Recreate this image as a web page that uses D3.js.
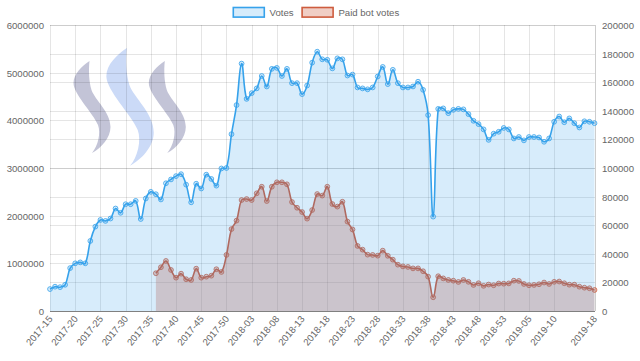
<!DOCTYPE html>
<html><head><meta charset="utf-8">
<script src="https://cdn.jsdelivr.net/npm/d3@7/dist/d3.min.js"></script>
<style>html,body{margin:0;padding:0;background:#fff;} svg{display:block;}</style>
</head><body>
<svg id="chart" width="640" height="361"></svg>
<script>
// ---------- DATA ----------
const weeks = [
"2017-15","2017-16","2017-17","2017-18","2017-19","2017-20","2017-21","2017-22","2017-23","2017-24",
"2017-25","2017-26","2017-27","2017-28","2017-29","2017-30","2017-31","2017-32","2017-33","2017-34",
"2017-35","2017-36","2017-37","2017-38","2017-39","2017-40","2017-41","2017-42","2017-43","2017-44",
"2017-45","2017-46","2017-47","2017-48","2017-49","2017-50","2017-51","2017-52",
"2018-01","2018-02","2018-03","2018-04","2018-05","2018-06","2018-07","2018-08","2018-09","2018-10",
"2018-11","2018-12","2018-13","2018-14","2018-15","2018-16","2018-17","2018-18","2018-19","2018-20",
"2018-21","2018-22","2018-23","2018-24","2018-25","2018-26","2018-27","2018-28","2018-29","2018-30",
"2018-31","2018-32","2018-33","2018-34","2018-35","2018-36","2018-37","2018-38","2018-39","2018-40",
"2018-41","2018-42","2018-43","2018-44","2018-45","2018-46","2018-47","2018-48","2018-49","2018-50",
"2018-51","2018-52","2018-53",
"2019-01","2019-02","2019-03","2019-04","2019-05","2019-06","2019-07","2019-08","2019-09","2019-10",
"2019-11","2019-12","2019-13","2019-14","2019-15","2019-16","2019-17","2019-18"];

const votes = [
460000,510000,500000,550000,900000,1000000,1020000,1000000,1470000,1770000,
1910000,1890000,1940000,2150000,2060000,2240000,2240000,2310000,1930000,2360000,
2500000,2450000,2340000,2680000,2760000,2830000,2870000,2650000,2280000,2670000,
2570000,2860000,2770000,2630000,2990000,3000000,3710000,4320000,5190000,4450000,
4570000,4670000,4930000,4710000,5080000,5100000,4930000,5080000,4780000,4780000,
4550000,4730000,5210000,5440000,5280000,5270000,5090000,5300000,5280000,4940000,
4960000,4690000,4670000,4650000,4690000,4920000,5120000,4760000,5060000,4780000,
4690000,4690000,4710000,4810000,4640000,4110000,1980000,4240000,4250000,4150000,
4220000,4240000,4230000,4130000,3990000,3920000,3810000,3590000,3720000,3760000,
3840000,3810000,3620000,3650000,3580000,3650000,3650000,3640000,3550000,3620000,
3970000,4080000,3960000,4040000,3940000,3850000,3980000,3970000,3940000];

const paidBotVotes = [
null,null,null,null,null,null,null,null,null,null,
null,null,null,null,null,null,null,null,null,null,
null,26400,30600,35000,28700,23300,26100,22200,21700,29600,
23300,24000,24700,29200,27300,39200,57300,63200,77600,78300,
77600,82300,86900,76900,86900,90000,90000,88600,76200,72200,
69200,64600,70600,81800,80700,86900,74800,73000,76400,62500,
57000,45500,42900,39400,39200,38700,42200,38600,35900,32400,
31200,30800,29800,29800,27800,24000,9600,24300,22800,21700,
21200,20300,21700,20400,18200,19400,17600,18500,18000,19200,
19100,19300,21200,21000,18900,18000,18200,18700,19900,18900,
20400,20600,19400,18400,18400,17000,16300,15900,14700];

const leftTicks = [0,1000000,2000000,3000000,4000000,5000000,6000000];
const rightTicks = [0,20000,40000,60000,80000,100000,120000,140000,160000,180000,200000];
const xTickLabels = ["2017-15","2017-20","2017-25","2017-30","2017-35","2017-40","2017-45","2017-50",
  "2018-03","2018-08","2018-13","2018-18","2018-23","2018-28","2018-33","2018-38","2018-43","2018-48",
  "2018-53","2019-05","2019-10","2019-18"];
const seriesNames = ["Votes","Paid bot votes"];

// ---------- LAYOUT ----------
const L=50, R=594.5, T=25, B=311;
const FONT = "'Liberation Sans', Arial, Helvetica, sans-serif";
const FS = 9.6;
const blue = "rgb(54,162,235)", blueFill="rgba(54,162,235,0.2)";
const red = "rgb(206,92,62)", redFill="rgba(206,92,62,0.3)";

const svg = d3.select("#chart");
const x = d3.scalePoint().domain(weeks).range([L,R]);
const yL = d3.scaleLinear().domain([0,6000000]).range([B,T]);
const yR = d3.scaleLinear().domain([0,200000]).range([B,T]);

// ---------- watermark (steem logo) ----------
const logoPath = "M89.5,61 C82,66 73.5,74 73.5,83 C73.5,94 93,113 98,125 C101,133 98,146 92,153 C101,148 110.5,138 110.5,127 C110.5,112 95,100 91.5,90 C89,82 88.5,70 89.5,61 Z";
const wm = svg.append("g");
wm.append("path").attr("d",logoPath).attr("fill","#c3c4d7");
wm.append("path").attr("d",logoPath).attr("fill","#c3c4d7").attr("transform","translate(75.3,0)");
wm.append("path").attr("d",logoPath).attr("fill","#cbdaf7")
  .attr("transform","translate(107,48) scale(1.28) translate(-74,-61)");

// ---------- grid ----------
const grid = svg.append("g").attr("shape-rendering","crispEdges");
const gl = grid.append("g").attr("transform",`translate(${L},0)`)
  .call(d3.axisLeft(yL).tickValues(leftTicks).tickSize(-(595-L)).tickFormat(""));
const gr = grid.append("g").attr("transform",`translate(${L},0)`)
  .call(d3.axisLeft(yR).tickValues(rightTicks).tickSize(-(595-L)).tickFormat(""));
const gx = grid.append("g").attr("transform",`translate(0,${B})`)
  .call(d3.axisBottom(x).tickValues(xTickLabels).tickSize(-(B-T)).tickFormat(""));
[gl,gr,gx].forEach(g=>{ g.select(".domain").remove();
  g.selectAll(".tick line").attr("stroke","rgba(0,0,0,0.1)"); });
gl.selectAll(".tick line").filter(d=>d===0).attr("stroke","rgba(0,0,0,0.25)");
gr.selectAll(".tick line").filter(d=>d===0).attr("stroke","rgba(0,0,0,0.25)");
grid.append("line").attr("x1",595).attr("x2",595).attr("y1",T).attr("y2",B).attr("stroke","rgba(0,0,0,0.1)");
grid.append("line").attr("x1",L).attr("x2",595).attr("y1",B).attr("y2",B).attr("stroke","rgba(0,0,0,0.1)");

// ---------- Chart.js-like spline curve ----------
function CJCurve(ctx){this._context=ctx;}
CJCurve.prototype={
  areaStart(){this._line=0;},
  areaEnd(){this._line=NaN;},
  lineStart(){this._pts=[];},
  point(px,py){this._pts.push([+px,+py]);},
  lineEnd(){
    const p=this._pts,c=this._context,n=p.length,t=0.4;
    const cx=v=>Math.max(L,Math.min(R,v)), cy=v=>Math.max(T,Math.min(B,v));
    if(n){
      if(this._line) c.lineTo(p[0][0],p[0][1]); else c.moveTo(p[0][0],p[0][1]);
      if(n>1){
        const cps=p.map((cur,i)=>{
          const prev=p[i-1]||cur, next=p[i+1]||cur;
          const d01=Math.hypot(cur[0]-prev[0],cur[1]-prev[1]);
          const d12=Math.hypot(next[0]-cur[0],next[1]-cur[1]);
          let s01=d01/(d01+d12), s12=d12/(d01+d12);
          if(!isFinite(s01)) s01=0; if(!isFinite(s12)) s12=0;
          const fa=t*s01, fb=t*s12;
          return {pc:[cx(cur[0]-fa*(next[0]-prev[0])), cy(cur[1]-fa*(next[1]-prev[1]))],
                  nc:[cx(cur[0]+fb*(next[0]-prev[0])), cy(cur[1]+fb*(next[1]-prev[1]))]};
        });
        for(let i=1;i<n;i++) c.bezierCurveTo(cps[i-1].nc[0],cps[i-1].nc[1],cps[i].pc[0],cps[i].pc[1],p[i][0],p[i][1]);
      }
    }
    if(this._line||(this._line!==0&&n===1)) c.closePath();
    this._line=1-this._line;
  }
};
const curveCJ = ctx=>new CJCurve(ctx);

function drawSeries(vals, yScale, stroke, fill){
  const data = weeks.map((w,i)=>({w, v:vals[i]})).filter(d=>d.v!=null);
  const g = svg.append("g");
  g.append("path").datum(data)
    .attr("d", d3.area().x(d=>x(d.w)).y0(yScale(0)).y1(d=>yScale(d.v)).curve(curveCJ))
    .attr("fill", fill);
  g.append("path").datum(data)
    .attr("d", d3.line().x(d=>x(d.w)).y(d=>yScale(d.v)).curve(curveCJ))
    .attr("fill","none").attr("stroke",stroke).attr("stroke-width",1.6);
  g.selectAll("circle").data(data).join("circle")
    .attr("cx",d=>x(d.w)).attr("cy",d=>yScale(d.v)).attr("r",2.4)
    .attr("fill",fill).attr("stroke",stroke).attr("stroke-width",0.8);
}
// Chart.js draws later datasets first
drawSeries(paidBotVotes, yR, red, redFill);
drawSeries(votes, yL, blue, blueFill);

// ---------- axis labels ----------
const txt = sel=>sel.attr("font-family",FONT).attr("font-size",FS).attr("fill","#666");
const al = svg.append("g").attr("transform",`translate(${L},0)`)
  .call(d3.axisLeft(yL).tickValues(leftTicks).tickSize(0).tickPadding(6).tickFormat(d3.format("d")));
const ar = svg.append("g").attr("transform",`translate(595,0)`)
  .call(d3.axisRight(yR).tickValues(rightTicks).tickSize(0).tickPadding(7).tickFormat(d3.format("d")));
[al,ar].forEach(g=>{ g.select(".domain").remove(); g.attr("font-family",null).attr("font-size",null);
  g.selectAll("text").call(txt).attr("dy",null).attr("dominant-baseline","central"); });

const xl = svg.append("g");
xl.selectAll("text").data(xTickLabels).join("text")
  .attr("transform",d=>`translate(${x(d)+0.5},${B+6}) rotate(-50)`)
  .attr("text-anchor","end").attr("dominant-baseline","central")
  .text(d=>d).call(txt);

// ---------- legend ----------
const leg = svg.append("g");
const items = [{name:seriesNames[0],stroke:blue,fill:blueFill},{name:seriesNames[1],stroke:red,fill:redFill}];
const boxW=32, pad=8;
const tmp = leg.append("text").call(txt);
items.forEach(it=>{ tmp.text(it.name); it.tw = tmp.node().getComputedTextLength(); it.w = boxW + FS/2 + it.tw + pad; });
tmp.remove();
let lx = (640 - d3.sum(items,d=>d.w))/2;
items.forEach(it=>{
  leg.append("rect").attr("x",lx+0.5).attr("y",7.5).attr("width",boxW-1).attr("height",FS)
    .attr("fill",it.fill).attr("stroke",it.stroke).attr("stroke-width",1.6);
  leg.append("text").attr("x",lx+boxW+FS/2).attr("y",12.5).attr("dominant-baseline","central").text(it.name).call(txt);
  lx += it.w;
});
</script>
</body></html>
